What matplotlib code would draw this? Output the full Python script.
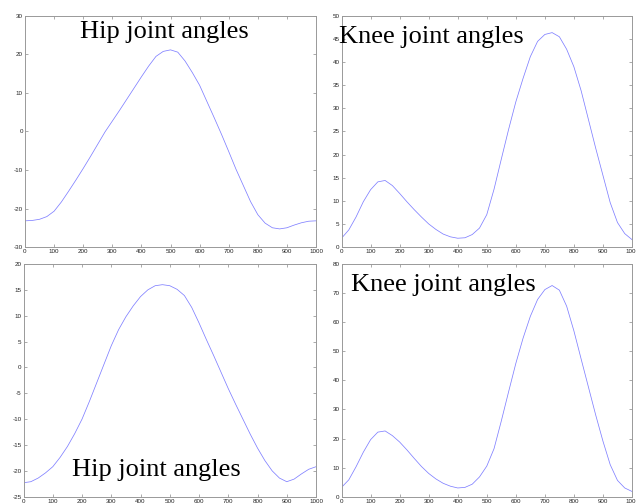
import matplotlib
matplotlib.use('Agg')
from matplotlib import pyplot as plt

plt.rcParams['axes.unicode_minus'] = False
plt.rcParams['font.family'] = ['Liberation Sans', 'DejaVu Sans']

x = list(range(0, 1001, 25))
hip_top = [-23.2, -23.1, -22.8, -22.1, -20.7, -18.3, -15.5, -12.6, -9.6, -6.5,
           -3.3, -0.1, 2.7, 5.5, 8.4, 11.3, 14.2, 17.0, 19.5, 20.8,
           21.2, 20.6, 18.3, 15.3, 12.0, 7.8, 3.6, -0.7, -5.2, -9.8,
           -14.0, -18.2, -21.6, -23.8, -25.0, -25.3, -25.0, -24.3, -23.7, -23.3, -23.2]
knee_top = [1.9, 3.7, 6.5, 9.8, 12.4, 14.1, 14.4, 13.3, 11.6, 9.8,
            8.1, 6.5, 5.0, 3.8, 2.8, 2.2, 1.9, 2.0, 2.7, 4.1,
            7.0, 12.5, 19.0, 25.4, 31.4, 36.5, 41.2, 44.5, 46.0, 46.4,
            45.5, 42.8, 39.0, 33.8, 27.6, 21.4, 15.5, 9.6, 5.3, 2.9, 1.6]
hip_bot = [-22.3, -22.1, -21.4, -20.4, -19.2, -17.4, -15.3, -12.8, -10.0, -6.6,
           -3.0, 0.6, 4.2, 7.3, 9.8, 11.9, 13.7, 15.0, 15.8, 16.0,
           15.8, 15.1, 13.9, 11.6, 8.6, 5.4, 2.3, -0.9, -4.1, -7.1,
           -10.0, -12.9, -15.6, -18.0, -20.0, -21.4, -22.1, -21.6, -20.6, -19.7, -19.2]
knee_bot = [3.2, 5.8, 10.3, 15.3, 19.6, 22.2, 22.6, 21.0, 18.8, 16.1,
            13.2, 10.4, 8.0, 6.1, 4.6, 3.6, 3.0, 3.2, 4.3, 6.8,
            10.5, 16.5, 26.0, 36.0, 45.8, 54.5, 62.0, 67.8, 71.2, 72.6,
            71.0, 65.5, 57.0, 47.3, 37.7, 28.1, 19.1, 11.0, 5.6, 3.0, 1.8]

hip_label = 'Hip joint angles'
knee_label = 'Knee joint angles'

fig = plt.figure(figsize=(6.36, 5.04), dpi=100)

panels = [
    # rect, data, ylim, ystep, label, text x, text y, ha
    ([0.0393, 0.5099, 0.4576, 0.4584], hip_top, (-30, 30), 10, hip_label, 0.48, 0.905, 'center'),
    ([0.537, 0.5099, 0.4567, 0.4584], knee_top, (0, 50), 5, knee_label, -0.008, 0.883, 'left'),
    ([0.037, 0.0145, 0.4599, 0.4617], hip_bot, (-25, 20), 5, hip_label, 0.165, 0.089, 'left'),
    ([0.537, 0.0145, 0.4567, 0.4617], knee_bot, (0, 80), 10, knee_label, 0.033, 0.885, 'left'),
]

for rect, y, ylim, ystep, label, tx, ty, ha in panels:
    ax = fig.add_axes(rect)
    ax.plot(x, y, color='#8080ff', lw=0.55, solid_joinstyle='round')
    ax.set_xlim(0, 1000)
    ax.set_ylim(*ylim)
    ax.set_xticks(range(0, 1001, 100))
    ax.set_yticks(range(ylim[0], ylim[1] + 1, ystep))
    ax.tick_params(direction='in', length=2.5, width=0.5, colors='#888888',
                   labelcolor='#222222', labelsize=4.5, pad=1.5,
                   top=True, right=True)
    for s in ax.spines.values():
        s.set_color('#999999')
        s.set_linewidth(0.7)
    ax.text(tx, ty, label, transform=ax.transAxes, ha=ha, va='baseline',
            fontsize=19, family='Liberation Serif', color='black')

fig.savefig('out.png', dpi=100)
